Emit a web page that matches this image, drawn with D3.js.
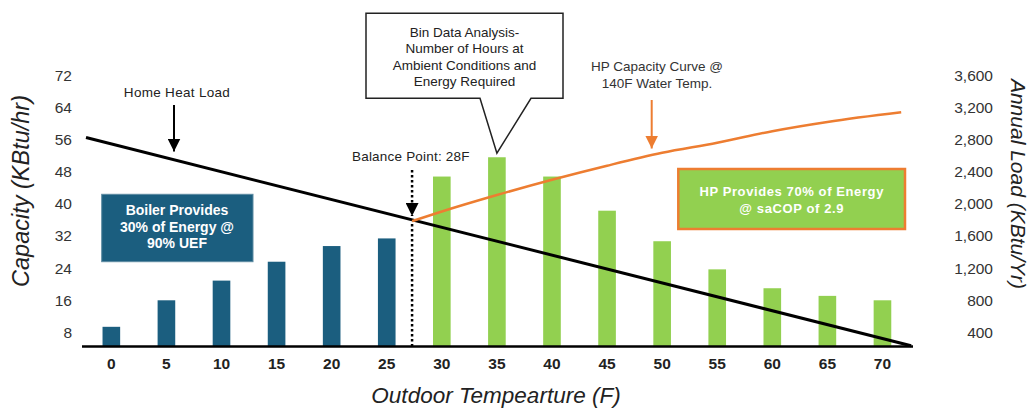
<!DOCTYPE html>
<html><head><meta charset="utf-8">
<script src="https://cdn.jsdelivr.net/npm/d3@7"></script>
<style>
html,body{margin:0;padding:0;background:#fff;}
svg{display:block;font-family:"Liberation Sans",Arial,sans-serif;}
</style></head>
<body>
<svg id="chart" width="1031" height="408"></svg>
<script>
// ---- data ----
const temps = [0,5,10,15,20,25,30,35,40,45,50,55,60,65,70];
const binLoad = [470,800,1045,1280,1475,1570,2340,2580,2340,1915,1535,1185,950,855,800]; // annual load (KBtu/Yr)
const boilerTemps = [0,5,10,15,20,25];
const leftTicks = [8,16,24,32,40,48,56,64,72];
const rightTicks = [400,800,1200,1600,2000,2400,2800,3200,3600];
const heatLoadTemps = [-2.3, 72.6];
const heatLoadVals = [56.5, 4.7];
const hpCurveTemps = [27.3,30,35,40,45,50,55,60,65,71.7];
const hpCurveVals = [35.7,38.1,42.2,46.0,49.5,52.7,55.2,58.1,60.4,62.8];
const balanceTemp = 27.3;

const svg = d3.select("#chart");
const baseY = 346.5;

const xBand = d3.scaleBand().domain(temps).range([83.8, 910]).paddingInner(0.68).paddingOuter(0.34);
const xLin = d3.scaleLinear().domain([-2.5, 72.5]).range([83.8, 910]);
const yL = d3.scaleLinear().domain([4.5, 72]).range([baseY, 75.3]);
const yR = d3.scaleLinear().domain([225, 3600]).range([baseY, 75.3]);

const defs = svg.append("defs");
function marker(id, color){
  defs.append("marker").attr("id", id).attr("viewBox","0 0 10 10").attr("refX",10).attr("refY",5)
    .attr("markerWidth",13).attr("markerHeight",13).attr("markerUnits","userSpaceOnUse").attr("orient","auto")
    .append("path").attr("d","M0,0 L10,5 L0,10 z").attr("fill", color);
}
marker("arrBlack","#000");
marker("arrOrange","#ED7D31");

// bars
svg.append("g").selectAll("rect").data(temps).join("rect")
  .attr("x", d => xBand(d))
  .attr("width", xBand.bandwidth())
  .attr("y", (d,i) => yR(binLoad[i]))
  .attr("height", (d,i) => baseY - yR(binLoad[i]))
  .attr("fill", d => boilerTemps.includes(d) ? "#1B5E7F" : "#92D050");

// x baseline
svg.append("line").attr("x1", 82).attr("x2", 913).attr("y1", baseY).attr("y2", baseY)
  .attr("stroke","#000").attr("stroke-width",2.5);

// heat load line
const line = d3.line().x(d => xLin(d[0])).y(d => yL(d[1]));
svg.append("path").datum(heatLoadTemps.map((t,i)=>[t,heatLoadVals[i]]))
  .attr("d", line).attr("fill","none").attr("stroke","#000").attr("stroke-width",3);

// HP capacity curve
svg.append("path").datum(hpCurveTemps.map((t,i)=>[t,hpCurveVals[i]]))
  .attr("d", line.curve(d3.curveMonotoneX)).attr("fill","none").attr("stroke","#ED7D31").attr("stroke-width",2.5);

// balance point dotted line
const bx = xLin(balanceTemp);
svg.append("line").attr("x1",bx).attr("x2",bx).attr("y1",170).attr("y2",216)
  .attr("stroke","#000").attr("stroke-width",2.5).attr("stroke-dasharray","2.5,2.5")
  .attr("marker-end","url(#arrBlack)");
svg.append("line").attr("x1",bx).attr("x2",bx).attr("y1",224).attr("y2",baseY)
  .attr("stroke","#000").attr("stroke-width",2.5).attr("stroke-dasharray","2.5,2.5");
svg.append("text").attr("x", 352).attr("y", 161).attr("font-size", 13.5).attr("letter-spacing", 0.2)
  .attr("fill","#222").text("Balance Point: 28F");

// axes
const axL = svg.append("g").attr("transform","translate(75,0)")
  .call(d3.axisLeft(yL).tickValues(leftTicks).tickSize(0).tickPadding(3));
axL.select(".domain").remove();
axL.selectAll("text").attr("font-size",15.5).attr("fill","#333").attr("font-family","Liberation Sans, Arial, sans-serif");

const axR = svg.append("g").attr("transform","translate(996,0)")
  .call(d3.axisLeft(yR).tickValues(rightTicks).tickSize(0).tickPadding(3).tickFormat(d3.format(",")));
axR.select(".domain").remove();
axR.selectAll("text").attr("font-size",15.5).attr("fill","#333").attr("font-family","Liberation Sans, Arial, sans-serif");

const axB = svg.append("g").attr("transform",`translate(0,${baseY})`)
  .call(d3.axisBottom(xBand).tickSize(0).tickPadding(11.5));
axB.select(".domain").remove();
axB.selectAll("text").attr("font-size",15.5).attr("font-weight","bold").attr("fill","#222").attr("font-family","Liberation Sans, Arial, sans-serif");

// axis titles
svg.append("text").attr("transform","translate(29,191) rotate(-90)").attr("text-anchor","middle")
  .attr("font-size",23.5).attr("font-style","italic").attr("fill","#222").text("Capacity (KBtu/hr)");
svg.append("text").attr("transform","translate(1011,184) rotate(90)").attr("text-anchor","middle")
  .attr("font-size",21).attr("font-style","italic").attr("fill","#222").text("Annual Load (KBtu/Yr)");
svg.append("text").attr("x",496).attr("y",403).attr("text-anchor","middle")
  .attr("font-size",22.5).attr("font-style","italic").attr("fill","#222").text("Outdoor Tempearture (F)");

// Home heat load annotation
svg.append("text").attr("x",177).attr("y",96.7).attr("text-anchor","middle").attr("font-size",13.5)
  .attr("letter-spacing",0.3).attr("fill","#222").text("Home Heat Load");
svg.append("line").attr("x1",174).attr("x2",174).attr("y1",105).attr("y2",151.5)
  .attr("stroke","#000").attr("stroke-width",2).attr("marker-end","url(#arrBlack)");

// HP capacity annotation
const hpt = svg.append("text").attr("text-anchor","middle").attr("font-size",13.5).attr("fill","#333");
hpt.append("tspan").attr("x",657).attr("y",70.5).text("HP Capacity Curve @");
hpt.append("tspan").attr("x",657).attr("y",88).text("140F Water Temp.");
svg.append("line").attr("x1",651.7).attr("x2",651.7).attr("y1",100).attr("y2",148.5)
  .attr("stroke","#ED7D31").attr("stroke-width",2).attr("marker-end","url(#arrOrange)");

// Callout box
const tipX = xBand(35) + xBand.bandwidth()/2;
const tipY = yR(binLoad[temps.indexOf(35)]) - 4;
svg.append("path")
  .attr("d", `M366,13.3 L563,13.3 L563,98.3 L531,98.3 L${tipX},${tipY} L480,98.3 L366,98.3 Z`)
  .attr("fill","#fff").attr("stroke","#222").attr("stroke-width",1.5);
const ct = svg.append("text").attr("text-anchor","middle").attr("font-size",13.5).attr("fill","#222");
["Bin Data Analysis-","Number of Hours at","Ambient Conditions and","Energy Required"].forEach((s,i)=>{
  ct.append("tspan").attr("x",464.5).attr("y",36.5 + i*16.6).text(s);
});

// Boiler box
svg.append("rect").attr("x",101.7).attr("y",194.3).attr("width",151.3).attr("height",67.4)
  .attr("fill","#1B5E7F").attr("stroke","#5d8ba2").attr("stroke-width",1);
const bt = svg.append("text").attr("text-anchor","middle").attr("font-size",14).attr("font-weight","bold").attr("fill","#fff");
["Boiler Provides","30% of Energy @","90% UEF"].forEach((s,i)=>{
  bt.append("tspan").attr("x",177).attr("y",215 + i*16.6).text(s);
});

// HP box
svg.append("rect").attr("x",678.3).attr("y",169).attr("width",226.7).attr("height",60)
  .attr("fill","#92D050").attr("stroke","#ED7D31").attr("stroke-width",2.5);
const ht = svg.append("text").attr("text-anchor","middle").attr("font-size",13).attr("font-weight","bold")
  .attr("letter-spacing",0.6).attr("fill","#fff");
["HP Provides 70% of Energy","@ saCOP of 2.9"].forEach((s,i)=>{
  ht.append("tspan").attr("x",791.7).attr("y",196 + i*17).text(s);
});
</script>
</body></html>
